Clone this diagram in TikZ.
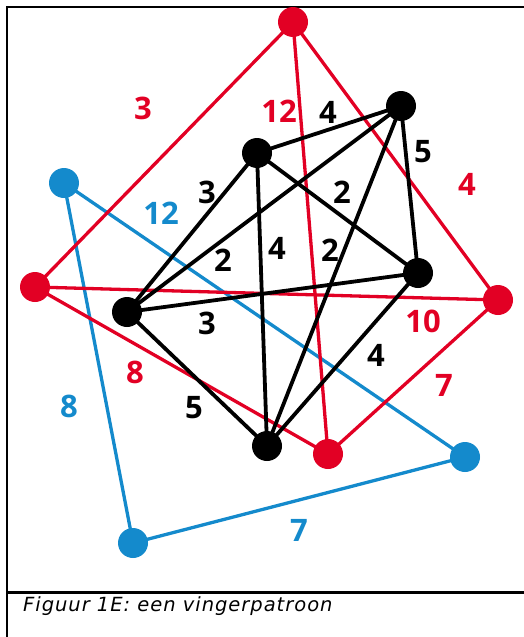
\documentclass[tikz,border=0pt]{standalone}
\usepackage{fontspec}
\setmainfont{Open Sans}
\newfontfamily\labfont{Open Sans}
\newfontfamily\capfont[LetterSpace=5]{DejaVu Sans}
\definecolor{cred}{RGB}{226,0,36}
\definecolor{cblue}{RGB}{20,138,204}
\begin{document}
\begin{tikzpicture}[x=1pt,y=-1pt,
  dot/.style={circle,inner sep=0pt,minimum size=30pt},
  redline/.style={draw=cred,line width=3.3pt},
  blueline/.style={draw=cblue,line width=3.3pt},
  blackline/.style={draw=black,line width=3.8pt},
  lab/.style={font=\labfont\bfseries\fontsize{31}{31}\selectfont,inner sep=0pt},
  frameline/.style={draw=black,line width=2.5pt}]
\useasboundingbox (0,0) rectangle (524,637);
% frame
\coordinate (f1) at (7,637);
\coordinate (f2) at (7,7);
\coordinate (f3) at (524,7);
\coordinate (s1) at (7,592);
\coordinate (s2) at (524,592);
\draw[frameline] (f1) -- (f2) -- (f3);
\draw[frameline,line width=3pt] (s1) -- (s2);
% coordinates of nodes
\coordinate (RT) at (293,22);
\coordinate (RL) at (35,287);
\coordinate (RR) at (498,300);
\coordinate (RB) at (328,454);
\coordinate (BT) at (64,183);
\coordinate (BR) at (465,457);
\coordinate (BB) at (133,543);
\coordinate (KA) at (401,106);
\coordinate (KB) at (257,153);
\coordinate (KC) at (418,273);
\coordinate (KD) at (127,312);
\coordinate (KE) at (267,446);
% blue edges
\draw[blueline] (BT) -- (BR) -- (BB) -- cycle;
% red edges
\draw[redline] (RT) -- (RL);
\draw[redline] (RT) -- (RR);
\draw[redline] (RT) -- (RB);
\draw[redline] (RL) -- (RR);
\draw[redline] (RL) -- (RB);
\draw[redline] (RR) -- (RB);
% black edges
\draw[blackline] (KA) -- (KB);
\draw[blackline] (KA) -- (KC);
\draw[blackline] (KA) -- (KD);
\draw[blackline] (KA) -- (KE);
\draw[blackline] (KB) -- (KC);
\draw[blackline] (KB) -- (KD);
\draw[blackline] (KB) -- (KE);
\draw[blackline] (KC) -- (KD);
\draw[blackline] (KC) -- (KE);
\draw[blackline] (KD) -- (KE);
% dots
\foreach \p in {RT,RL,RR,RB} \node[dot,fill=cred] (d\p) at (\p) {};
\foreach \p in {BT,BR,BB} \node[dot,fill=cblue] (d\p) at (\p) {};
\foreach \p in {KA,KB,KC,KD,KE} \node[dot,fill=black] (d\p) at (\p) {};
% red labels
\node[lab,text=cred] (r1) at (143,108) {3};
\node[lab,text=cred] (r2) at (279,111) {12};
\node[lab,text=cred] (r3) at (467,184) {4};
\node[lab,text=cred] (r4) at (423,321) {10};
\node[lab,text=cred] (r5) at (444,385) {7};
\node[lab,text=cred] (r6) at (135,372) {8};
% blue labels
\node[lab,text=cblue] (b1) at (161,213) {12};
\node[lab,text=cblue] (b2) at (69,406) {8};
\node[lab,text=cblue] (b3) at (299,530) {7};
% black labels
\node[lab] (k1) at (328,112) {4};
\node[lab] (k2) at (423,152) {5};
\node[lab] (k3) at (207,192) {3};
\node[lab] (k4) at (342,192) {2};
\node[lab] (k5) at (223,260) {2};
\node[lab] (k6) at (277,248) {4};
\node[lab] (k7) at (330,250) {2};
\node[lab] (k8) at (207,323) {3};
\node[lab] (k9) at (376,355) {4};
\node[lab] (k10) at (194,408) {5};
% caption
\node[anchor=base west,inner sep=0pt,font=\capfont\itshape\fontsize{19.5}{19.5}\selectfont] (cap) at (23,611) {Figuur 1E: een vingerpatroon};
\end{tikzpicture}
\end{document}
